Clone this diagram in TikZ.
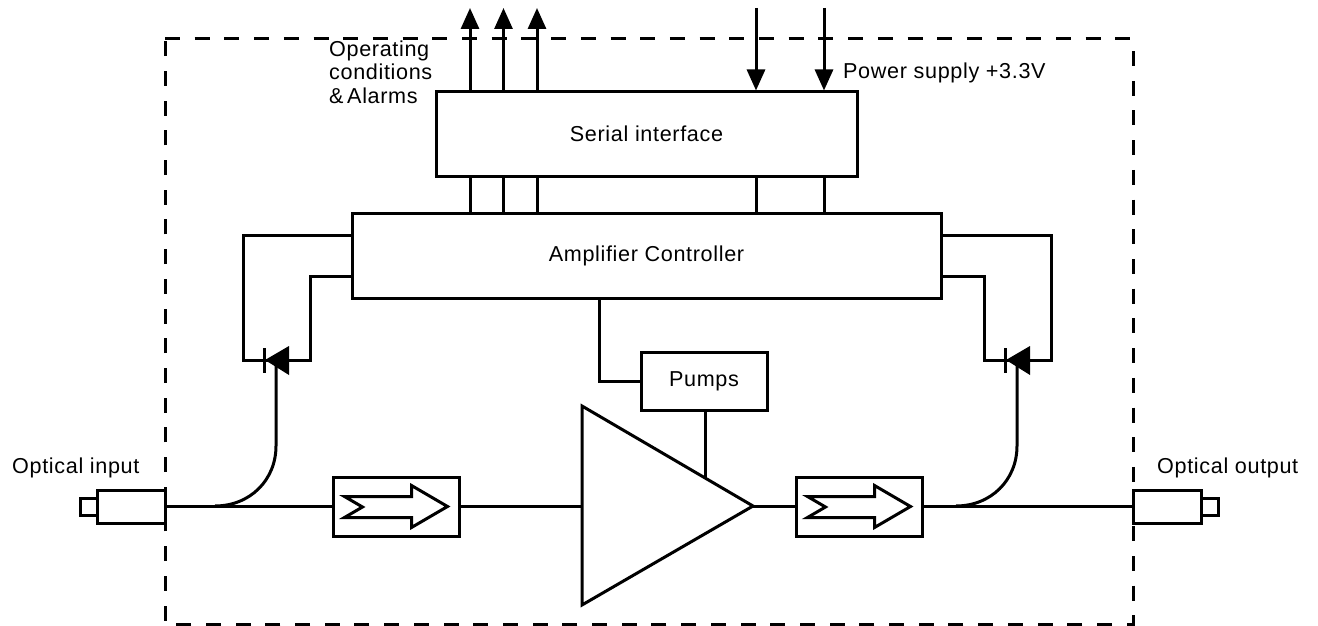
\documentclass[tikz,border=0pt]{standalone}
\usepackage{fontspec}
\setmainfont[LetterSpace=3]{Liberation Sans}
\usetikzlibrary{arrows.meta}
\tikzset{
  line/.style={line width=3pt,line join=miter},
  blk/.style={draw,line width=3pt,inner sep=0pt,minimum width=#1},
  lbl/.style={inner sep=0pt,anchor=base west,font=\fontsize{21.6}{21.6}\selectfont},
  ctr/.style={inner sep=0pt,font=\fontsize{21.6}{21.6}\selectfont},
  sig/.style={line width=3pt,-{Triangle[length=21pt,width=18pt]}},
  frame/.style={line width=3pt,dash pattern=on 15pt off 14.7pt},
}
\newcommand{\isoarrow}[1]{%
  \draw[line width=3pt,miter limit=10] ([shift={(13,-10)}]#1.west) -- ++(67,0) -- ++(0,-11) -- ++(36,21) -- ++(-36,21) -- ++(0,-10) -- ++(-67,0) -- ++(18,-10.5) -- cycle;}
\begin{document}
\begin{tikzpicture}[x=1pt,y=-1pt]
\useasboundingbox (0,0) rectangle (1318,626);
\draw[frame] (165,39) -- (1133,39) -- (1133,624) -- (165,624) -- cycle;

% blocks
\node[blk=421pt,minimum height=84pt,ctr] (serial) at (646.5,134) {Serial interface};
\node[blk=589pt,minimum height=85pt,ctr] (amp) at (646.5,255.5) {Amplifier Controller};
\node[blk=126pt,minimum height=58pt,ctr] (pumps) at (704,381) {Pumps};
\node[blk=126pt,minimum height=59pt] (iso1) at (396,506.5) {};
\node[blk=126pt,minimum height=59pt] (iso2) at (859,506.5) {};
\node[blk=68pt,minimum height=33pt] (connL) at (131,506.5) {};
\node[blk=17pt,minimum height=17pt] (tipL) at (88.5,506.5) {};
\node[blk=68pt,minimum height=33pt] (connR) at (1167,506.5) {};
\node[blk=17pt,minimum height=17pt] (tipR) at (1209.5,506.5) {};
\isoarrow{iso1}
\isoarrow{iso2}

% amplifier triangle
\coordinate (triT) at (582,406);
\coordinate (triB) at (582,605);
\coordinate (triTip) at (753,506);
\coordinate (triIn) at (582,506.5);
\coordinate (triPump) at (705,478);
\draw[line width=3pt,miter limit=10] (triT) -- (triTip) -- (triB) -- cycle;

% signal lines
\foreach \n/\x in {a/470,b/503.5,c/537}{
  \coordinate (t\n) at (\x,8);
  \draw[sig] (serial.north -| t\n) -- (t\n);
  \draw[line] (amp.north -| t\n) -- (serial.south -| t\n);
}
\foreach \n/\x in {d/756,e/824}{
  \coordinate (t\n) at (\x,8);
  \draw[sig] (t\n) -- (serial.north -| t\n);
  \draw[line] (amp.north -| t\n) -- (serial.south -| t\n);
}

% optical path
\draw[line] (connL.east) -- (iso1.west);
\draw[line] (iso1.east) -- (triIn);
\draw[line] (triTip |- iso2.west) -- (iso2.west);
\draw[line] (iso2.east) -- (connR.west);

% pumps
\coordinate (pumpV) at (599,381);
\draw[line] (amp.south -| pumpV) -- (pumpV) -- (pumps.west);
\draw[line] (pumps.south -| triPump) -- (triPump);

% left detector
\coordinate (dL) at (265,360);
\coordinate (dLa) at (243,360);
\coordinate (dLb) at (310,360);
\coordinate (aLa) at (352,235);
\coordinate (aLb) at (352,276);
\draw[line] (aLa) -- (aLa -| dLa) -- (dLa) -- (dLb) -- (dLb |- aLb) -- (aLb);
\draw[line] (264,348) -- (264,373);
\fill (dL) -- (289,346) -- (289,375) -- cycle;
\coordinate (fL0) at (215,506);
\coordinate (fL1) at (276,446);
\coordinate (fL2) at (276,362);
\draw[line] (fL0) .. controls (250,506) and (276,480) .. (fL1) -- (fL2);

% right detector
\coordinate (dR) at (1006,360);
\coordinate (dRa) at (984,360);
\coordinate (dRb) at (1051,360);
\coordinate (aRa) at (941,235);
\coordinate (aRb) at (941,276);
\draw[line] (aRa) -- (aRa -| dRb) -- (dRb) -- (dRa) -- (dRa |- aRb) -- (aRb);
\draw[line] (1005,348) -- (1005,373);
\fill (dR) -- (1030,346) -- (1030,375) -- cycle;
\coordinate (fR0) at (956,506);
\coordinate (fR1) at (1017,446);
\coordinate (fR2) at (1017,362);
\draw[line] (fR0) .. controls (991,506) and (1017,480) .. (fR1) -- (fR2);

% labels
\node[lbl] (l1) at (329,57) {Operating};
\node[lbl] (l2) at (329,80) {conditions};
\node[lbl] (l3) at (329,103) {\&\,Alarms};
\node[lbl] (l4) at (843,78) {Power supply +3.3V};
\node[lbl] (l5) at (12,473) {Optical input};
\node[lbl] (l6) at (1157,473) {Optical output};
\end{tikzpicture}
\end{document}
